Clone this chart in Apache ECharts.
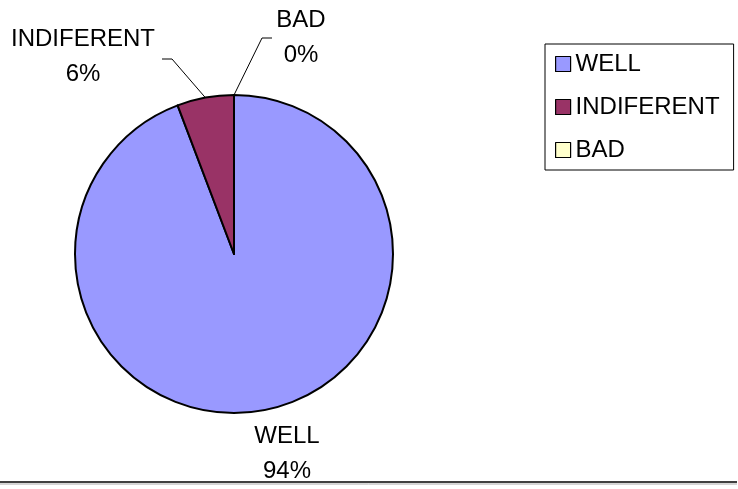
<!DOCTYPE html>
<html>
<head>
<meta charset="utf-8">
<title>pie</title>
<script src="https://cdn.jsdelivr.net/npm/echarts@6/dist/echarts.min.js"></script>
<style>
  html, body { margin: 0; padding: 0; background: #fff; }
  #main { width: 738px; height: 489px; }
</style>
</head>
<body>
<div id="main"></div>
<script>
// data
var categories = ['WELL', 'INDIFERENT', 'BAD'];
var values = [49, 3, 0];
var colors = ['#9999ff', '#993366', '#ffffcc'];

// pie geometry
var cx = 234, cy = 254, r = 159;

// label placement relative to the pie centre (text centre, then elbow of leader line)
var labelPos = [
  { x: 53, y: 200, elbow: null },
  { x: -151, y: -197, elbow: [-62, -195], end: [-72, -195] },
  { x: 67, y: -216, elbow: [28, -216], end: [38, -216] }
];

var seriesData = categories.map(function (name, i) {
  var item = { name: name, value: values[i], itemStyle: { color: colors[i] } };
  if (!labelPos[i].elbow) item.labelLine = { show: false };
  return item;
});

var myChart = echarts.init(document.getElementById('main'));
myChart.setOption({
  backgroundColor: '#fff',
  animation: false,
  textStyle: { fontFamily: 'Liberation Sans, Arial, sans-serif' },
  legend: {
    orient: 'vertical',
    left: 545,
    top: 44,
    padding: [8, 14, 8, 10],
    itemGap: 19,
    itemWidth: 15,
    itemHeight: 15,
    itemTextGap: 9,
    icon: 'rect',
    borderColor: '#000',
    borderWidth: 1,
    itemStyle: { borderColor: '#000', borderWidth: 1.2 },
    textStyle: { fontSize: 24, color: '#000', fontFamily: 'Liberation Sans, Arial, sans-serif' },
    data: categories
  },
  graphic: [{
    type: 'line',
    shape: { x1: 0, y1: 482, x2: 737, y2: 482 },
    style: { stroke: '#000', lineWidth: 1.5 }
  }, {
    type: 'line',
    shape: { x1: 0, y1: 484, x2: 737, y2: 484 },
    style: { stroke: '#aaa', lineWidth: 1 }
  }],
  series: [{
    type: 'pie',
    center: [cx, cy],
    radius: r,
    startAngle: 90,
    clockwise: true,
    percentPrecision: 0,
    avoidLabelOverlap: false,
    itemStyle: { borderColor: '#000', borderWidth: 2 },
    emphasis: { disabled: true },
    label: {
      show: true,
      position: 'outside',
      formatter: '{b}\n{d}%',
      fontSize: 24,
      lineHeight: 35,
      color: '#000',
      fontFamily: 'Liberation Sans, Arial, sans-serif'
    },
    labelLine: {
      show: true,
      length: 20,
      length2: 10,
      lineStyle: { color: '#000', width: 1 }
    },
    labelLayout: function (p) {
      var lp = labelPos[p.dataIndex];
      var out = {
        x: cx + lp.x,
        y: cy + lp.y,
        align: 'center',
        verticalAlign: 'middle'
      };
      if (lp.elbow && p.labelLinePoints) {
        var a = p.labelLinePoints[0];
        out.labelLinePoints = [
          [a[0], a[1]],
          [cx + lp.elbow[0], cy + lp.elbow[1]],
          [cx + lp.end[0], cy + lp.end[1]]
        ];
      }
      return out;
    },
    data: seriesData
  }]
});
</script>
</body>
</html>
